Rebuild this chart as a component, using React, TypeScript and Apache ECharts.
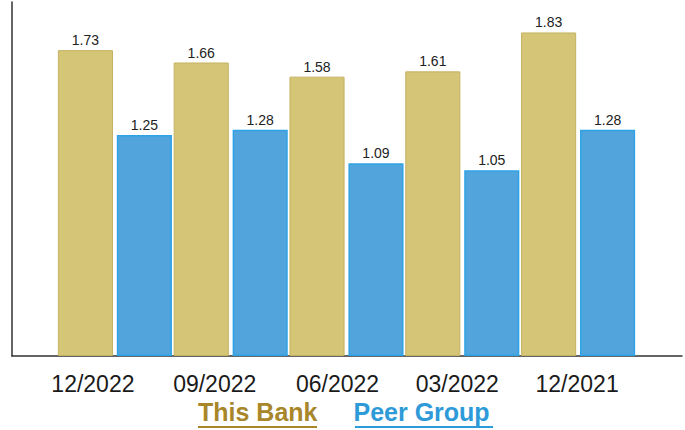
import React, { useEffect, useRef } from "react";
import * as echarts from "echarts";

const categories = ["12/2022", "09/2022", "06/2022", "03/2022", "12/2021"];
const thisBank = [1.73, 1.66, 1.58, 1.61, 1.83];
const peerGroup = [1.25, 1.28, 1.09, 1.05, 1.28];
const labelShiftRight = [44, 32, 18, 10, 2];

export default function App() {
  const ref = useRef<HTMLDivElement>(null);
  useEffect(() => {
    if (!ref.current) return;
    const chart = echarts.init(ref.current, null, { renderer: "svg" });
    const rich: Record<string, any> = {};
    labelShiftRight.forEach((p, i) => {
      rich["c" + i] = {
        fontSize: 23,
        fontFamily: "Liberation Sans, Arial, sans-serif",
        color: "#1a1a1a",
        padding: [0, p, 0, 0],
      };
    });
    chart.setOption({
      animation: false,
      backgroundColor: "#ffffff",
      grid: [
        { left: 57, right: 49, top: 2.4, bottom: 74 },
        { left: 12, right: 3, top: 2, bottom: 74 },
      ],
      legend: {
        left: 193,
        top: 399,
        icon: "none",
        itemWidth: 0,
        itemHeight: 0,
        itemGap: 31,
        padding: 0,
        selectedMode: false,
        textStyle: {
          fontSize: 25,
          fontWeight: "bold",
          fontFamily: "Liberation Sans, Arial, sans-serif",
        },
        data: [
          { name: "This Bank", textStyle: { color: "#a8872a" } },
          { name: "Peer Group", textStyle: { color: "#2e9ad8" } },
        ],
      },
      xAxis: [
        {
          type: "category",
          gridIndex: 0,
          data: categories,
          axisLine: { show: false },
          axisTick: { show: false },
          axisLabel: {
            margin: 16,
            formatter: (v: string, i: number) => `{c${i}|${v}}`,
            rich,
          },
        },
        {
          type: "category",
          gridIndex: 1,
          data: [""],
          axisLine: { show: true, lineStyle: { color: "#333333", width: 1.5 } },
          axisTick: { show: false },
          axisLabel: { show: false },
        },
      ],
      yAxis: [
        {
          type: "value",
          gridIndex: 0,
          min: 0,
          max: 2,
          show: false,
        },
        {
          type: "value",
          gridIndex: 1,
          min: 0,
          max: 2,
          axisLine: { show: true, lineStyle: { color: "#333333", width: 1.5 } },
          axisTick: { show: false },
          axisLabel: { show: false },
          splitLine: { show: false },
        },
      ],
      series: [
        {
          name: "This Bank",
          type: "bar",
          xAxisIndex: 0,
          yAxisIndex: 0,
          data: thisBank,
          barCategoryGap: "1.5%",
          barGap: "7%",
          itemStyle: { color: "#d5c576", borderColor: "#c4b262", borderWidth: 1 },
          label: {
            show: true,
            position: "top",
            distance: 3,
            fontSize: 14,
            color: "#222222",
            fontFamily: "Liberation Sans, Arial, sans-serif",
          },
        },
        {
          name: "Peer Group",
          type: "bar",
          xAxisIndex: 0,
          yAxisIndex: 0,
          data: peerGroup,
          itemStyle: { color: "#52a4dc", borderColor: "#2ea2e6", borderWidth: 1.5 },
          label: {
            show: true,
            position: "top",
            distance: 3,
            fontSize: 14,
            color: "#222222",
            fontFamily: "Liberation Sans, Arial, sans-serif",
          },
        },
      ],
      graphic: [
        { type: "line", shape: { x1: 198, y1: 427, x2: 317, y2: 427 }, style: { stroke: "#a8872a", lineWidth: 2 } },
        { type: "line", shape: { x1: 355, y1: 427, x2: 493, y2: 427 }, style: { stroke: "#2e9ad8", lineWidth: 2 } },
      ],
    });
    return () => chart.dispose();
  }, []);
  return <div ref={ref} style={{ width: 685, height: 430, position: "absolute", left: 0, top: 0 }} />;
}
